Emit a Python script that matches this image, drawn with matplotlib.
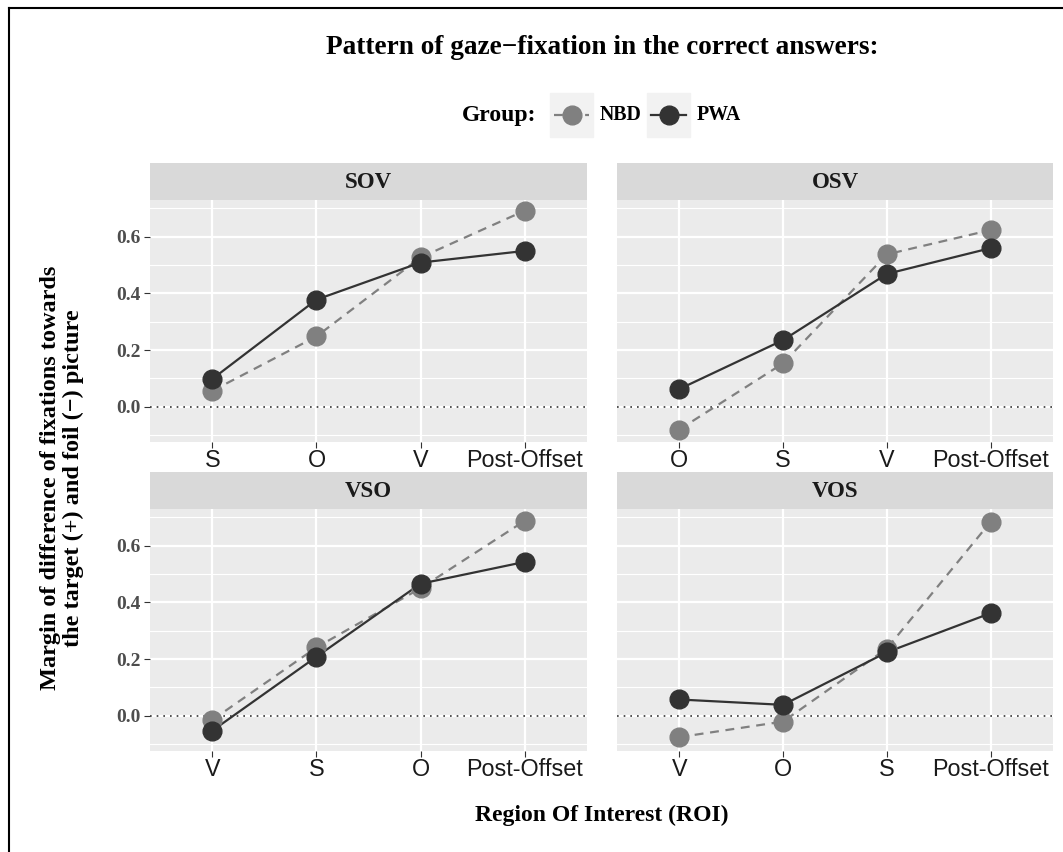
import matplotlib
matplotlib.use('Agg')
from matplotlib import pyplot as plt
from matplotlib.lines import Line2D
from matplotlib.patches import Rectangle
import numpy as np

# data
panels = ['SOV', 'OSV', 'VSO', 'VOS']
regions = [
    ['S', 'O', 'V', 'Post-Offset'],
    ['O', 'S', 'V', 'Post-Offset'],
    ['V', 'S', 'O', 'Post-Offset'],
    ['V', 'O', 'S', 'Post-Offset'],
]
nbd = [
    [0.056, 0.248, 0.527, 0.692],
    [-0.081, 0.153, 0.538, 0.624],
    [-0.015, 0.241, 0.450, 0.688],
    [-0.076, -0.021, 0.237, 0.685],
]
pwa = [
    [0.098, 0.378, 0.509, 0.550],
    [0.062, 0.235, 0.469, 0.560],
    [-0.053, 0.208, 0.466, 0.543],
    [0.057, 0.038, 0.224, 0.362],
]
groups = ['NBD', 'PWA']
colors = {'NBD': '#808080', 'PWA': '#333333'}
styles = {'NBD': (0, (4, 3)), 'PWA': '-'}

SERIF = 'Liberation Serif'
SANS = 'Liberation Sans'

W, H = 1063, 852
fig = plt.figure(figsize=(W / 100, H / 100), dpi=100)


def fx(px):
    return px / W


def fy(py):
    return 1 - py / H


# panel boxes in pixels: (left, right) and (strip_top, panel_top, panel_bottom)
lefts = [(150, 587), (617, 1053)]
rows = [(163, 200, 442), (472, 509, 751)]

for i, name in enumerate(panels):
    r, c = divmod(i, 2)
    x0, x1 = lefts[c]
    st, pt, pb = rows[r]
    ax = fig.add_axes([fx(x0), fy(pb), fx(x1 - x0), fy(pt) - fy(pb)])
    sax = fig.add_axes([fx(x0), fy(pt), fx(x1 - x0), fy(st) - fy(pt)])
    sax.set_facecolor('#d9d9d9')
    sax.set_xticks([])
    sax.set_yticks([])
    for s in sax.spines.values():
        s.set_visible(False)
    sax.text(0.5, 0.48, name, ha='center', va='center', fontsize=16.5,
             fontweight='bold', family=SERIF, color='#1a1a1a', transform=sax.transAxes)

    ax.set_facecolor('#ebebeb')
    for s in ax.spines.values():
        s.set_visible(False)
    xs = np.arange(1, 5)
    ax.set_xlim(0.4, 4.6)
    ax.set_ylim(-0.125, 0.73)
    ax.set_yticks([0.0, 0.2, 0.4, 0.6])
    ax.set_yticks([-0.1, 0.1, 0.3, 0.5, 0.7], minor=True)
    ax.set_xticks(xs)
    ax.grid(True, which='major', color='white', lw=1.6)
    ax.grid(True, which='minor', axis='y', color='white', lw=0.8)
    ax.set_axisbelow(True)
    ax.set_xticklabels(regions[i], fontsize=16.8, family=SANS, color='#1a1a1a')
    ax.tick_params(axis='x', which='both', length=4, color='#333333', pad=1)
    ax.tick_params(axis='y', which='minor', length=0)
    ax.tick_params(axis='y', which='major', length=4, color='#333333', pad=3)
    if c == 0:
        ax.set_yticklabels(['0.0', '0.2', '0.4', '0.6'], fontsize=14,
                           family=SERIF, fontweight='bold', color='#4d4d4d')
    else:
        ax.set_yticklabels([])
        ax.tick_params(axis='y', which='major', length=0)

    ax.axhline(0, color='#333333', lw=1.2, ls=(0, (1, 3)))
    vals = {'NBD': nbd[i], 'PWA': pwa[i]}
    for g in groups:
        ax.plot(xs, vals[g], color=colors[g], ls=styles[g], lw=1.6, zorder=3)
    for g in groups:
        ax.plot(xs, vals[g], ls='none', marker='o', ms=13.5, color=colors[g], zorder=4)

# titles
fig.text(fx(602), fy(48), 'Pattern of gaze\u2212fixation in the correct answers:',
         ha='center', va='center', fontsize=19.6, fontweight='bold', family=SERIF)
fig.text(fx(602), fy(815), 'Region Of Interest (ROI)', ha='center', va='center',
         fontsize=17, fontweight='bold', family=SERIF)
fig.text(fx(62), fy(478), 'Margin of difference of fixations towards\nthe target (+) and foil (\u2212) picture',
         ha='center', va='center', rotation=90, fontsize=17.5, fontweight='bold',
         family=SERIF, linespacing=1.15)

# legend drawn by hand, ggplot style
fig.text(fx(462), fy(115), 'Group:', ha='left', va='center', fontsize=17,
         fontweight='bold', family=SERIF)
keys = [(550, 593, 600), (647, 690, 697)]
for g, (k0, k1, tx) in zip(groups, keys):
    fig.patches.append(Rectangle((fx(k0), fy(137)), fx(k1 - k0), fy(93) - fy(137),
                                 transform=fig.transFigure, color='#f2f2f2', zorder=0))
    fig.lines.append(Line2D([fx(k0 + 4), fx(k1 - 4)], [fy(115), fy(115)], transform=fig.transFigure,
                            color=colors[g], ls=styles[g], lw=1.6))
    fig.lines.append(Line2D([fx((k0 + k1) / 2)], [fy(115)], transform=fig.transFigure,
                            marker='o', ms=13.5, color=colors[g]))
    fig.text(fx(tx), fy(115), g, ha='left', va='center', fontsize=14.3,
             fontweight='bold', family=SERIF)

# outer frame (cropped at right/bottom)
fig.lines.append(Line2D([fx(8.5), fx(8.5)], [0, fy(8)], transform=fig.transFigure, color='black', lw=1.5))
fig.lines.append(Line2D([fx(8.5), 1], [fy(8), fy(8)], transform=fig.transFigure, color='black', lw=1.5))

fig.savefig('out.png', dpi=100)
